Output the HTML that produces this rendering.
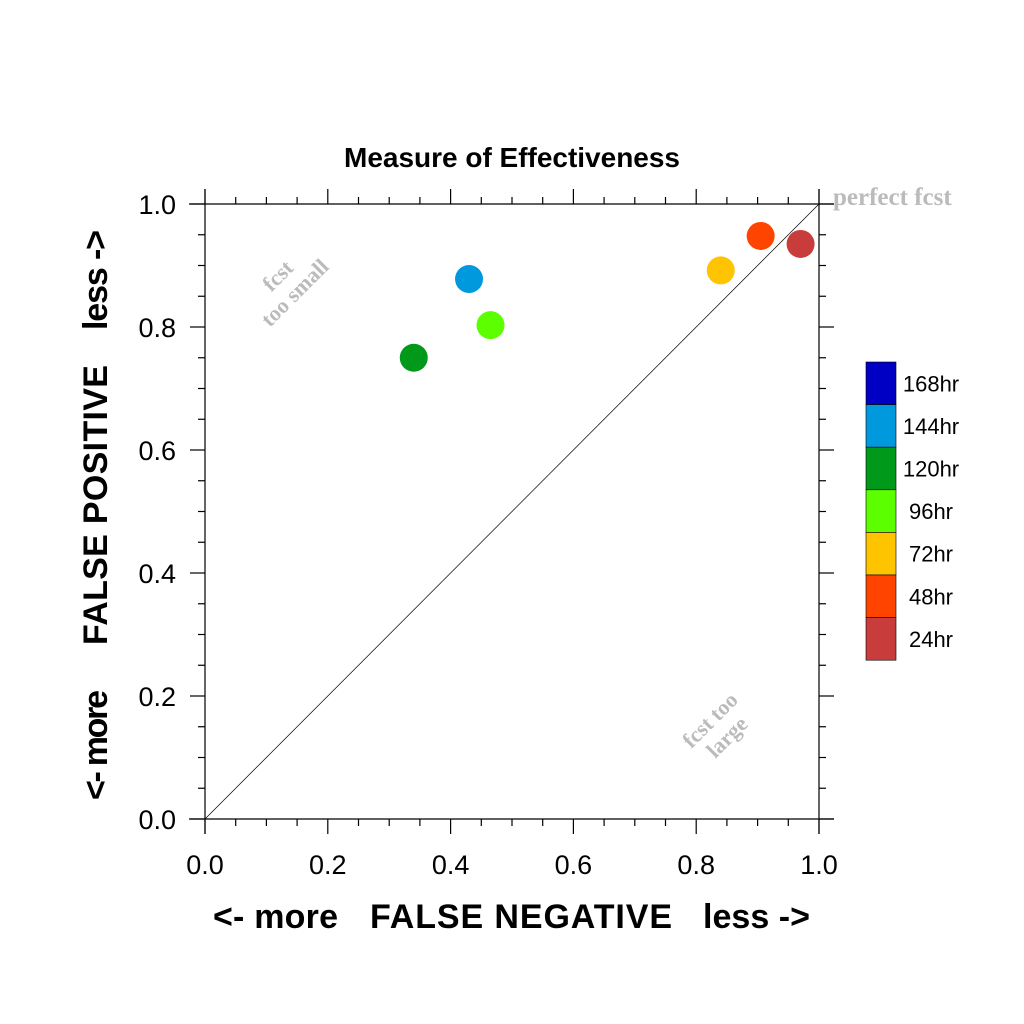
<!DOCTYPE html>
<html><head><meta charset="utf-8"><style>body{margin:0;background:#fff}svg{display:block}</style></head>
<body>
<svg width="1024" height="1024" xmlns="http://www.w3.org/2000/svg" font-family="Liberation Sans, sans-serif">
<script>
const labels=["24hr","48hr","72hr","96hr","120hr","144hr"];
const fn=[0.970,0.905,0.840,0.465,0.340,0.430];
const fp=[0.935,0.948,0.892,0.803,0.750,0.878];
const colors=["#c83c3c","#ff4400","#ffc400","#5cff00","#00991a","#0099dd"];
const legendLabels=["168hr","144hr","120hr","96hr","72hr","48hr","24hr"];
const legendColors=["#0000c4","#0099dd","#00991a","#5cff00","#ffc400","#ff4400","#c83c3c"];
const ticks=[0,0.2,0.4,0.6,0.8,1.0];
</script>
<text x="512" y="167" font-size="28" font-weight="bold" text-anchor="middle" textLength="336">Measure of Effectiveness</text>
<g id="axes" stroke="#000" fill="none"></g>
<line x1="205" y1="819" x2="819" y2="204" stroke="#000" stroke-width="0.7"/>
<g id="pts"></g>
<g id="legend"></g>
<text x="833" y="205" font-family="Liberation Serif, serif" font-weight="bold" font-size="25" fill="#bbb">perfect fcst</text>
<text transform="translate(290,288) rotate(-45)" font-family="Liberation Serif, serif" font-weight="bold" font-size="22" fill="#bbb" text-anchor="middle"><tspan x="0" y="-10">fcst</tspan><tspan x="0" y="14">too small</tspan></text>
<text transform="translate(718,728) rotate(-45)" font-family="Liberation Serif, serif" font-weight="bold" font-size="22" fill="#bbb" text-anchor="middle"><tspan x="0" y="-4">fcst too</tspan><tspan x="0" y="20">large</tspan></text>
<g font-size="34" font-weight="bold">
<text x="213" y="928" textLength="125">&lt;- more</text>
<text x="370" y="928" textLength="302">FALSE NEGATIVE</text>
<text x="703" y="928" textLength="107">less -&gt;</text>
</g>
<g font-size="34" font-weight="bold">
<text transform="translate(107,800) rotate(-90)" textLength="110">&lt;- more</text>
<text transform="translate(107,645) rotate(-90)" textLength="280">FALSE POSITIVE</text>
<text transform="translate(107,330) rotate(-90)" textLength="100">less -&gt;</text>
</g>
<script>
const NS="http://www.w3.org/2000/svg";
const X=v=>205+v*614, Y=v=>819-v*615;
const ax=document.getElementById('axes');
function ln(x1,y1,x2,y2,name){const l=document.createElementNS(NS,'line');l.setAttribute('x1',x1);l.setAttribute('y1',y1);l.setAttribute('x2',x2);l.setAttribute('y2',y2);l.setAttribute('stroke-width',1.2);


ax.appendChild(l);}
ln(189,204,834,204,'top-axis');ln(189,819,834,819,'bottom-axis');ln(205,189,205,834,'left-axis');ln(819,189,819,834,'right-axis');
for(let i=0;i<=20;i++){const v=i/20,len=(i%4==0)?15:7;
ln(X(v),204,X(v),204-len,'top-tick');ln(X(v),819,X(v),819+len,'bottom-tick');
ln(205,Y(v),205-len,Y(v),'left-tick');ln(819,Y(v),819+len,Y(v),'right-tick');}
const svg=document.querySelector('svg');
ticks.forEach(t=>{
 let a=document.createElementNS(NS,'text');a.setAttribute('x',X(t));a.setAttribute('y',874);a.setAttribute('font-size',27);a.setAttribute('text-anchor','middle');a.textContent=t.toFixed(1);
 
 
 svg.appendChild(a);
 let b=document.createElementNS(NS,'text');b.setAttribute('x',176);b.setAttribute('y',Y(t)+10);b.setAttribute('font-size',27);b.setAttribute('text-anchor','end');b.textContent=t.toFixed(1);
 
 
 svg.appendChild(b);
});
const pts=document.getElementById('pts');
labels.forEach((lb,i)=>{const c=document.createElementNS(NS,'circle');c.setAttribute('cx',X(fn[i]));c.setAttribute('cy',Y(fp[i]));c.setAttribute('r',14);c.setAttribute('fill',colors[i]);


pts.appendChild(c);});
const lg=document.getElementById('legend');const bh=42.6;
legendLabels.forEach((lb,i)=>{const r=document.createElementNS(NS,'rect');r.setAttribute('x',866);r.setAttribute('y',362+i*bh);r.setAttribute('width',30);r.setAttribute('height',bh);r.setAttribute('fill',legendColors[i]);r.setAttribute('stroke','#000');r.setAttribute('stroke-width',0.6);


lg.appendChild(r);
const t=document.createElementNS(NS,'text');t.setAttribute('x',931);t.setAttribute('y',362+i*bh+bh/2+8);t.setAttribute('font-size',22);t.setAttribute('text-anchor','middle');t.textContent=lb;


lg.appendChild(t);});
</script>
</svg>
</body></html>
